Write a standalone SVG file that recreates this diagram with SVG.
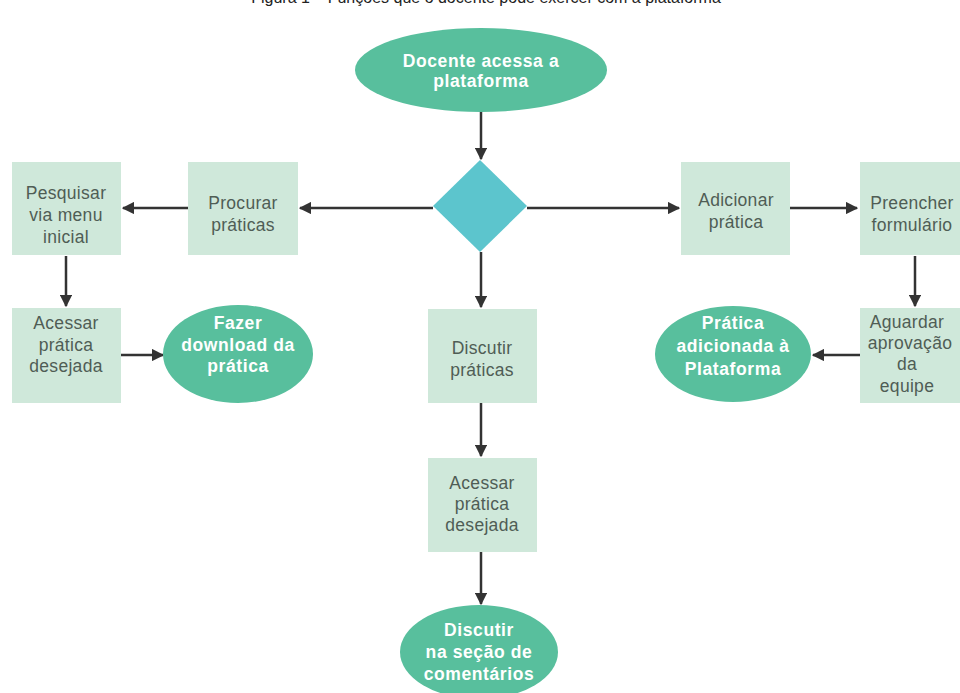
<svg xmlns="http://www.w3.org/2000/svg" width="960" height="693" viewBox="0 0 960 693">
<defs>
<marker id="ah" viewBox="0 0 10 10" refX="9" refY="5" markerWidth="5" markerHeight="5" orient="auto" markerUnits="strokeWidth">
<path d="M0,0 L10,5 L0,10 Z" fill="#333"/>
</marker>
</defs>
<style>
.box{fill:#cfe8da}
.ell{fill:#58bf9d}
.bt{font-family:"Liberation Sans",Arial,sans-serif;font-size:17.5px;fill:#4f5d55;text-anchor:middle;letter-spacing:0.3px}
.et{font-family:"Liberation Sans",Arial,sans-serif;font-size:17.5px;font-weight:bold;fill:#ffffff;text-anchor:middle;letter-spacing:0.6px}
.c{stroke:#333;stroke-width:2.5;fill:none;marker-end:url(#ah)}
.title{font-family:"Liberation Sans",Arial,sans-serif;font-size:16px;fill:#222;text-anchor:middle}
</style>
<rect width="960" height="693" fill="#ffffff"/>
<text class="title" x="486" y="3">Figura 1 – Funções que o docente pode exercer com a plataforma</text>

<g id="connectors">
<path class="c" d="M481,112 L481,159"/>
<path class="c" d="M433,208 L300,208"/>
<path class="c" d="M188,208 L123,208"/>
<path class="c" d="M527,208 L679,208"/>
<path class="c" d="M790,208 L857,208"/>
<path class="c" d="M66,256 L66,306"/>
<path class="c" d="M120,355 L163,355"/>
<path class="c" d="M481,252 L481,307"/>
<path class="c" d="M481,403 L481,456"/>
<path class="c" d="M481,552 L481,604"/>
<path class="c" d="M915,256 L915,306"/>
<path class="c" d="M860,355 L813,355"/>
</g>

<g id="start">
<ellipse class="ell" cx="481" cy="70" rx="126" ry="42"/>
<text class="et" x="481" y="67">Docente acessa a</text>
<text class="et" x="481" y="87">plataforma</text>
</g>

<g id="decision">
<polygon points="480,160 527,206 480,252 433,206" fill="#5cc5cd"/>
</g>

<g id="procurar">
<rect class="box" x="188" y="162" width="110" height="93"/>
<text class="bt" x="243" y="209">Procurar</text>
<text class="bt" x="243" y="231">práticas</text>
</g>

<g id="pesquisar">
<rect class="box" x="12" y="162" width="109" height="93"/>
<text class="bt" x="66" y="199">Pesquisar</text>
<text class="bt" x="66" y="221">via menu</text>
<text class="bt" x="66" y="243">inicial</text>
</g>

<g id="acessar-left">
<rect class="box" x="12" y="308" width="109" height="95"/>
<text class="bt" x="66" y="329">Acessar</text>
<text class="bt" x="66" y="351">prática</text>
<text class="bt" x="66" y="372">desejada</text>
</g>

<g id="download">
<ellipse class="ell" cx="238" cy="354" rx="75" ry="49"/>
<text class="et" x="238" y="329">Fazer</text>
<text class="et" x="238" y="351">download da</text>
<text class="et" x="238" y="372">prática</text>
</g>

<g id="discutir">
<rect class="box" x="428" y="309" width="109" height="94"/>
<text class="bt" x="482" y="354">Discutir</text>
<text class="bt" x="482" y="376">práticas</text>
</g>

<g id="acessar-center">
<rect class="box" x="428" y="458" width="109" height="94"/>
<text class="bt" x="482" y="489">Acessar</text>
<text class="bt" x="482" y="510">prática</text>
<text class="bt" x="482" y="531">desejada</text>
</g>

<g id="comentarios">
<ellipse class="ell" cx="479" cy="652" rx="79" ry="47"/>
<text class="et" x="479" y="636">Discutir</text>
<text class="et" x="479" y="658">na seção de</text>
<text class="et" x="479" y="680">comentários</text>
</g>

<g id="adicionar">
<rect class="box" x="681" y="162" width="109" height="93"/>
<text class="bt" x="736" y="206">Adicionar</text>
<text class="bt" x="736" y="228">prática</text>
</g>

<g id="preencher">
<rect class="box" x="860" y="162" width="110" height="93"/>
<text class="bt" x="912" y="209">Preencher</text>
<text class="bt" x="912" y="231">formulário</text>
</g>

<g id="aguardar">
<rect class="box" x="860" y="308" width="110" height="95"/>
<text class="bt" x="907" y="328">Aguardar</text>
<text class="bt" x="910" y="349">aprovação</text>
<text class="bt" x="907" y="370">da</text>
<text class="bt" x="907" y="392">equipe</text>
</g>

<g id="adicionada">
<ellipse class="ell" cx="733" cy="354" rx="78" ry="48"/>
<text class="et" x="733" y="329">Prática</text>
<text class="et" x="733" y="352">adicionada à</text>
<text class="et" x="733" y="375">Plataforma</text>
</g>
</svg>
